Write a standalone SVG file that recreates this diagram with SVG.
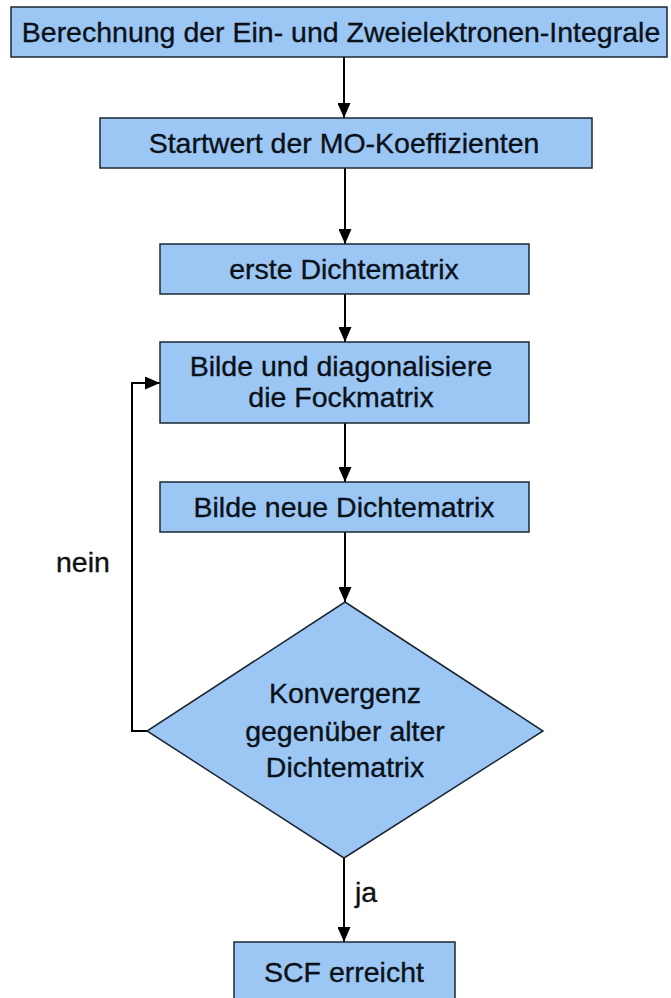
<svg xmlns="http://www.w3.org/2000/svg" width="671" height="998" viewBox="0 0 671 998">
<defs>
<style>
.box{fill:#9cc7f4;stroke:#1d2733;stroke-width:1.5}
.t{font-family:"Liberation Sans",Arial,sans-serif;font-size:28.5px;fill:#0b1118;stroke:#0b1118;stroke-width:0.35;text-anchor:middle}
.lbl{font-family:"Liberation Sans",Arial,sans-serif;font-size:28.5px;fill:#111111;stroke:#111111;stroke-width:0.35}
.c{fill:none;stroke:#000;stroke-width:2}
</style>
<marker id="ah" markerUnits="userSpaceOnUse" markerWidth="15" markerHeight="13" refX="15" refY="6.5" orient="auto">
<path d="M0,0 L15,6.5 L0,13 Z" fill="#000"/>
</marker>
</defs>
<rect width="671" height="998" fill="#fff"/>
<g id="connectors">
<path class="c" d="M344,57 V118" marker-end="url(#ah)"/>
<path class="c" d="M345,168 V244" marker-end="url(#ah)"/>
<path class="c" d="M345,294 V342" marker-end="url(#ah)"/>
<path class="c" d="M345,423 V482" marker-end="url(#ah)"/>
<path class="c" d="M345,532 V602" marker-end="url(#ah)"/>
<path class="c" d="M344,858 V942" marker-end="url(#ah)"/>
<path class="c" d="M148,731 H132 V383 H160" marker-end="url(#ah)"/>
<text class="lbl" x="56" y="572">nein</text>
<text class="lbl" x="355" y="902">ja</text>
</g>
<g id="n1">
<rect class="box" x="11" y="7" width="656" height="50"/>
<text class="t" x="341" y="42">Berechnung der Ein- und Zweielektronen-Integrale</text>
</g>
<g id="n2">
<rect class="box" x="100" y="118" width="492" height="50"/>
<text class="t" x="344" y="153">Startwert der MO-Koeffizienten</text>
</g>
<g id="n3">
<rect class="box" x="160" y="244" width="369" height="50"/>
<text class="t" x="344" y="279">erste Dichtematrix</text>
</g>
<g id="n4">
<rect class="box" x="160" y="342" width="369" height="81"/>
<text class="t" x="341" y="376">Bilde und diagonalisiere</text>
<text class="t" x="341" y="407">die Fockmatrix</text>
</g>
<g id="n5">
<rect class="box" x="160" y="482" width="369" height="50"/>
<text class="t" x="344" y="517">Bilde neue Dichtematrix</text>
</g>
<g id="n6">
<polygon class="box" points="345,602 543,731 344,858 147,731"/>
<text class="t" x="345" y="703">Konvergenz</text>
<text class="t" x="345" y="741">gegenüber alter</text>
<text class="t" x="345" y="777">Dichtematrix</text>
</g>
<g id="n7">
<rect class="box" x="234" y="942" width="221" height="60"/>
<text class="t" x="344" y="982">SCF erreicht</text>
</g>
</svg>
